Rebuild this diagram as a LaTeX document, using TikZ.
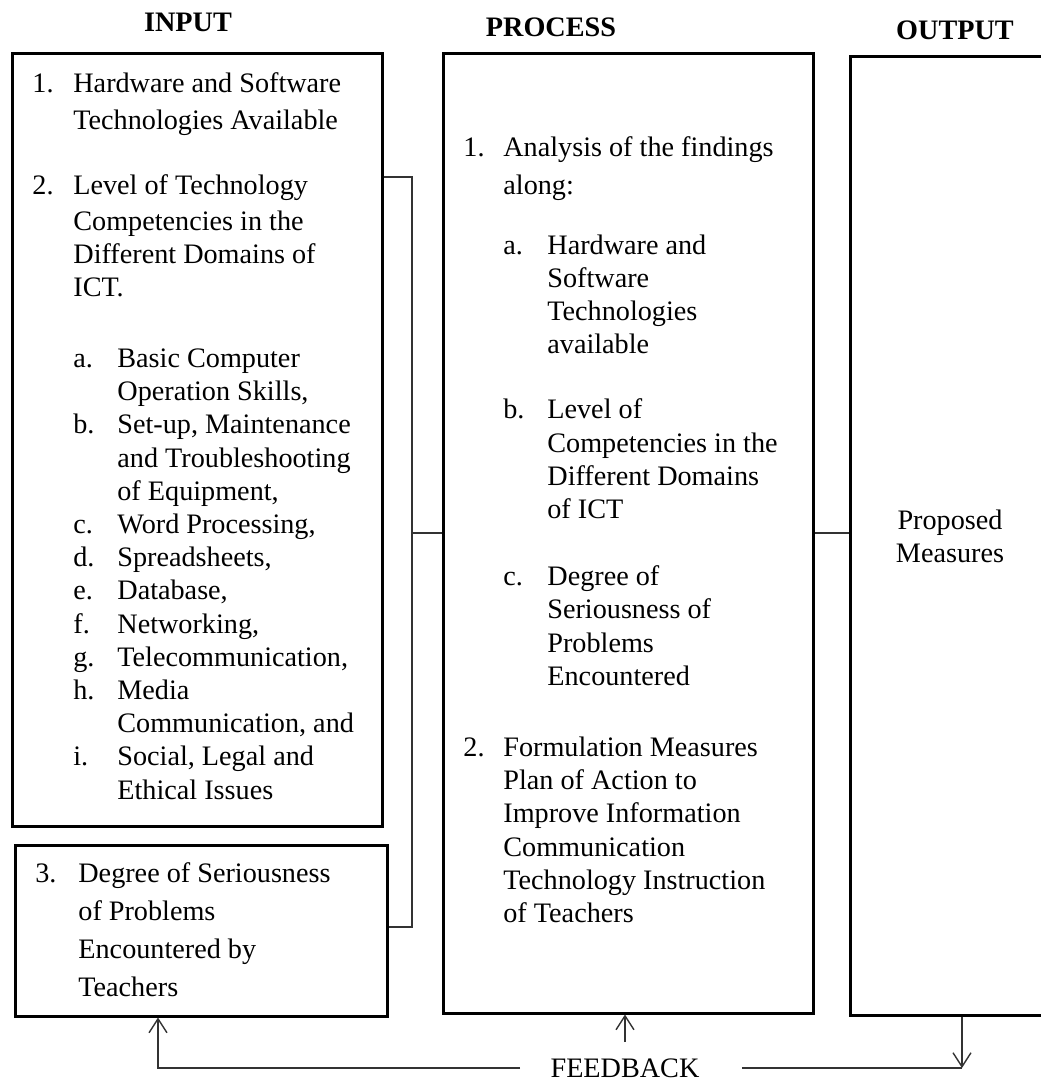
\documentclass[tikz,border=0pt]{standalone}
\usepackage{fontspec}
\setmainfont{Liberation Serif}
\usetikzlibrary{arrows.meta}
\usetikzlibrary{calc,positioning,fit}

\newcommand{\linha}[1]{\multicolumn{2}{@{}l@{}}{#1}}

\tikzset{
  caixa/.style={draw, line width=1.5pt, inner sep=0pt},
  ligacao/.style={draw=black!80, line width=0.7pt},
  titulo/.style={font=\fontsize{14.1pt}{17pt}\selectfont\bfseries, inner sep=0pt},
  texto/.style={font=\fontsize{14.1pt}{16.6pt}\selectfont, inner sep=0pt},
  lista/.style={texto, anchor=base west},
}

\begin{document}
\begin{tikzpicture}[>={Straight Barb[length=7pt,width=9pt]}, x=0.5pt, y=-0.5pt]

    \useasboundingbox (0,0) rectangle (1041,1084);
    \clip (0,0) rectangle (1041,1084);

    % caixas
    \node[caixa, fit={(12,53) (382,826)}] (entrada) {};
    \node[caixa, fit={(15,845) (387,1016)}] (problemas) {};
    \node[caixa, fit={(443,53) (813,1013)}] (processo) {};
    \node[caixa, fit={(850,56) (1070,1015)}] (saida) {};

    % titulos
    \node[titulo] (tentrada) at (188,22) {INPUT};
    \node[titulo] (tprocesso) at (551,27) {PROCESS};
    \node[titulo] (tsaida) at (955,30) {OUTPUT};

    % entrada
    \node[lista] (itensentrada) at (32,92) {%
      \begin{tabular}[t]{@{}p{20.5pt}@{}p{22pt}@{}l@{}}
        1. & \linha{Hardware and Software}\\[1.9pt]
           & \linha{Technologies Available}\\[15.9pt]
        2. & \linha{Level of Technology}\\[1.4pt]
           & \linha{Competencies in the}\\
           & \linha{Different Domains of}\\
           & \linha{ICT.}\\[18.9pt]
           & a. & Basic Computer\\
           &    & Operation Skills,\\
           & b. & Set-up, Maintenance\\
           &    & and Troubleshooting\\
           &    & of Equipment,\\
           & c. & Word Processing,\\
           & d. & Spreadsheets,\\
           & e. & Database,\\
           & f. & Networking,\\
           & g. & Telecommunication,\\
           & h. & Media\\
           &    & Communication, and\\
           & i. & Social, Legal and\\
           &    & Ethical Issues
      \end{tabular}};
    \node[lista] (itensproblemas) at (35,882) {%
      \begin{tabular}[t]{@{}p{21.5pt}@{}l@{}}
        3. & Degree of Seriousness\\[2.4pt]
           & of Problems\\[2.4pt]
           & Encountered by\\[2.4pt]
           & Teachers
      \end{tabular}};

    % processo
    \node[lista] (itensprocesso) at (463,156) {%
      \begin{tabular}[t]{@{}p{20pt}@{}p{22pt}@{}l@{}}
        1. & \linha{Analysis of the findings}\\[2.4pt]
           & \linha{along:}\\[13.4pt]
           & a. & Hardware and\\
           &    & Software\\
           &    & Technologies\\
           &    & available\\[16pt]
           & b. & Level of\\
           &    & Competencies in the\\
           &    & Different Domains\\
           &    & of ICT\\[17pt]
           & c. & Degree of\\
           &    & Seriousness of\\
           &    & Problems\\
           &    & Encountered\\[19pt]
        2. & \linha{Formulation Measures}\\
           & \linha{Plan of Action to}\\
           & \linha{Improve Information}\\
           & \linha{Communication}\\
           & \linha{Technology Instruction}\\
           & \linha{of Teachers}
      \end{tabular}};

    % saida
    \node[texto, align=center] (medidas) at (950,536) {Proposed\\Measures};

    % ligacoes
    \coordinate (coltopo) at (412,177);
    \coordinate (colbase) at (412,927);
    \coordinate (colmeio) at (412,533);
    \draw[ligacao] (coltopo -| entrada.east) -- (coltopo) -- (colbase) -- (colbase -| problemas.east);
    \draw[ligacao] (colmeio) -- (colmeio -| processo.west);
    \draw[ligacao] (colmeio -| processo.east) -- (colmeio -| saida.west);

    % feedback
    \node[texto] (retorno) at (625,1068) {FEEDBACK};
    \coordinate (retesq) at (158,0);
    \coordinate (retdir) at (962,0);
    \draw[ligacao, ->] ([xshift=-15pt]retorno.west) -| (retesq |- problemas.south);
    \draw[ligacao] ([xshift=21pt]retorno.east) -- (retdir |- retorno.east);
    \draw[ligacao, ->] (retdir |- saida.south) -- (retdir |- retorno.east);
    \draw[ligacao, ->] ([yshift=8pt]retorno.north) -- (retorno.north |- processo.south);

\end{tikzpicture}
\end{document}
